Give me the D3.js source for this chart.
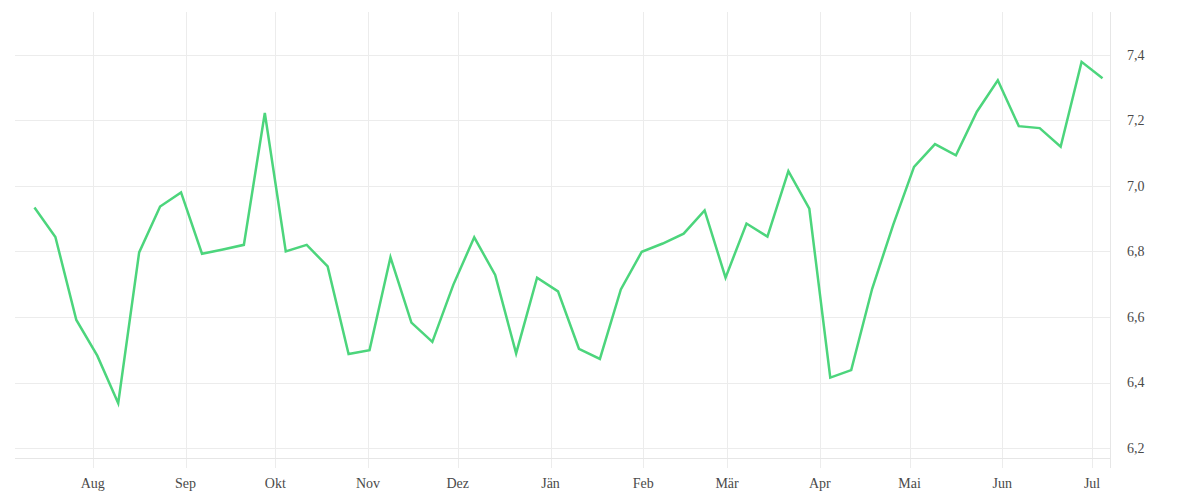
<!DOCTYPE html>
<html>
<head>
<meta charset="utf-8">
<script src="https://cdn.jsdelivr.net/npm/d3@7"></script>
<style>
  body { margin: 0; background: #fff; }
  .grid line { stroke: #ececec; stroke-width: 1; shape-rendering: crispEdges; }
  .frame { stroke: #e6e6e6; stroke-width: 1; shape-rendering: crispEdges; }
  .lbl { font-family: "Liberation Serif", "DejaVu Serif", serif; fill: #4a4a4a; }
</style>
</head>
<body>
<svg id="chart"></svg>
<script>
var WIDTH = 1200;
var HEIGHT = 500;

var LEFT = 15;
var RIGHT = 1110;
var TOP = 12;
var BOTTOM = 458;
var TICK_OUT = 10;

// weekly readings, first one on 12 Jul 2018
var START_DATE = "2018-07-12T12:00:00";
var VALUES = [
    6.934, 6.844, 6.591, 6.482, 6.337, 6.797, 6.937, 6.980, 6.793, 6.806,
    6.820, 7.222, 6.800, 6.820, 6.754, 6.487, 6.499, 6.782, 6.583, 6.524,
    6.698, 6.843, 6.728, 6.489, 6.720, 6.678, 6.503, 6.472, 6.684, 6.799,
    6.824, 6.854, 6.925, 6.720, 6.885, 6.845, 7.045, 6.930, 6.415, 6.438,
    6.686, 6.880, 7.058, 7.127, 7.093, 7.226, 7.322, 7.182, 7.176, 7.119,
    7.378, 7.328
];

var MONTH_LABELS = ["Aug", "Sep", "Okt", "Nov", "Dez", "Jän", "Feb", "Mär", "Apr", "Mai", "Jun", "Jul"];
var Y_TICKS = [6.2, 6.4, 6.6, 6.8, 7.0, 7.2, 7.4];
var Y_TICK_LABELS = ["6,2", "6,4", "6,6", "6,8", "7,0", "7,2", "7,4"];

(function () {
    var start = new Date(START_DATE);
    var data = VALUES.map(function (v, i) {
        return { date: d3.timeDay.offset(start, i * 7), value: v };
    });

    var xScale = d3.scaleTime()
        .domain([new Date(2018, 6, 6), new Date(2019, 6, 7)])
        .range([LEFT, RIGHT]);
    var yScale = d3.scaleLinear().domain([6.17, 7.53]).range([BOTTOM, TOP]);

    var monthTicks = d3.timeMonth.range(new Date(2018, 7, 1), new Date(2019, 6, 2));

    var svg = d3.select("#chart").attr("width", WIDTH).attr("height", HEIGHT);

    // horizontal grid
    svg.append("g").attr("class", "grid")
        .selectAll("line").data(Y_TICKS).enter().append("line")
        .attr("x1", LEFT).attr("x2", RIGHT)
        .attr("y1", function (d) { return Math.round(yScale(d)) + 0.5; })
        .attr("y2", function (d) { return Math.round(yScale(d)) + 0.5; });

    // vertical grid, running a bit below the plot like ticks
    svg.append("g").attr("class", "grid")
        .selectAll("line").data(monthTicks).enter().append("line")
        .attr("x1", function (d) { return Math.round(xScale(d)) + 0.5; })
        .attr("x2", function (d) { return Math.round(xScale(d)) + 0.5; })
        .attr("y1", TOP).attr("y2", BOTTOM + TICK_OUT);

    // bottom and right edges
    svg.append("line").attr("class", "frame")
        .attr("x1", LEFT).attr("x2", RIGHT)
        .attr("y1", BOTTOM + 0.5).attr("y2", BOTTOM + 0.5);
    svg.append("line").attr("class", "frame")
        .attr("x1", RIGHT + 0.5).attr("x2", RIGHT + 0.5)
        .attr("y1", TOP).attr("y2", BOTTOM + TICK_OUT);

    // month labels
    svg.append("g").selectAll("text").data(monthTicks).enter().append("text")
        .attr("class", "lbl")
        .attr("x", function (d) { return xScale(d); })
        .attr("y", 488)
        .attr("text-anchor", "middle")
        .style("font-size", "14px")
        .text(function (d, i) { return MONTH_LABELS[i]; });

    // value labels on the right
    svg.append("g").selectAll("text").data(Y_TICKS).enter().append("text")
        .attr("class", "lbl")
        .attr("x", RIGHT + 17)
        .attr("y", function (d) { return yScale(d); })
        .attr("dy", "0.35em")
        .style("font-size", "14px")
        .text(function (d, i) { return Y_TICK_LABELS[i]; });

    var line = d3.line()
        .x(function (d) { return xScale(d.date); })
        .y(function (d) { return yScale(d.value); });

    svg.append("path").datum(data)
        .attr("d", line)
        .attr("fill", "none")
        .attr("stroke", "#4cd57c")
        .attr("stroke-width", 2.5)
        .attr("stroke-linejoin", "miter");
}());
</script>
</body>
</html>
